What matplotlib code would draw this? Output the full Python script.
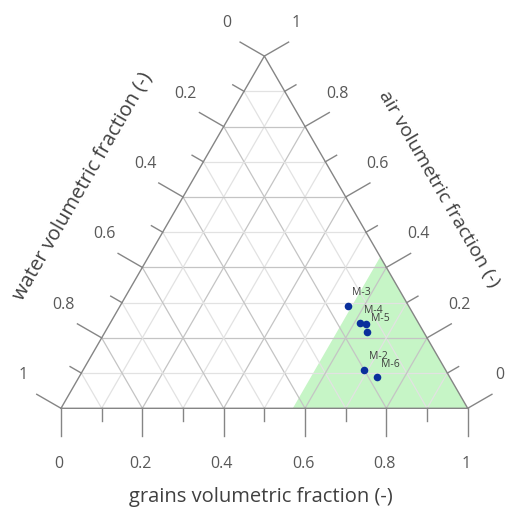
import matplotlib
matplotlib.use("Agg")
import matplotlib.pyplot as plt
import numpy as np

plt.rcParams['font.family'] = ['Open Sans', 'DejaVu Sans']

# samples: volumetric fractions
names = ["M-3", "M-4", "", "M-5", "M-2", "M-6"]
grains = [0.559, 0.614, 0.631, 0.643, 0.691, 0.732]
air = [0.291, 0.241, 0.239, 0.218, 0.109, 0.088]
water = [1 - g - a for g, a in zip(grains, air)]

green_min = 0.57  # shaded zone: grains fraction above this
levels = [0.0, 0.1, 0.2, 0.3, 0.4, 0.5, 0.6, 0.7, 0.8, 0.9, 1.0]
tick_labels = ["0", "", "0.2", "", "0.4", "", "0.6", "", "0.8", "", "1"]

S3 = np.sqrt(3) / 2
PX = 1 / 406.7  # one pixel in triangle units


def xy(g, a):
    g = np.asarray(g, dtype=float)
    a = np.asarray(a, dtype=float)
    return g + a / 2, a * S3


fig = plt.figure(figsize=(5.05, 5.13), dpi=100)
ax = fig.add_axes([0, 0, 1, 1])
ax.set_xlim(-61 * PX, 444 * PX)
ax.set_ylim(-104.7 * PX, 408.3 * PX)
ax.axis('off')

# green zone
gx, gy = xy([green_min, 1, green_min], [0, 0, 1 - green_min])
ax.fill(gx, gy, color='#c6f5c6', lw=0, zorder=1)

# grid
for i, v in enumerate(levels[1:-1], start=1):
    col = '#c4c4c4' if i % 2 == 0 else '#e2e2e2'
    # grains = v
    x, y = xy([v, v], [0, 1 - v])
    ax.plot(x, y, color=col, lw=0.9, zorder=2)
    # air = v
    x, y = xy([0, 1 - v], [v, v])
    ax.plot(x, y, color=col, lw=0.9, zorder=2)
    # water = v
    x, y = xy([1 - v, 0], [0, 1 - v])
    ax.plot(x, y, color=col, lw=0.9, zorder=2)

# outline
x, y = xy([0, 1, 0, 0], [0, 0, 1, 0])
ax.plot(x, y, color='#858585', lw=1.0, zorder=3)

# ticks
edge = '#858585'
txt = '#595959'
nl = np.array([-S3, 0.5])
nr = np.array([S3, 0.5])
for i, v in enumerate(levels):
    ln = 28 * PX if i % 2 == 0 else 13 * PX
    # bottom: grains
    bx, by = xy(v, 0)
    ax.plot([bx, bx], [by, by - ln], color=edge, lw=1.0)
    # left: water (0 at top)
    lx, ly = xy(0, 1 - v)
    ax.plot([lx, lx + nl[0] * ln], [ly, ly + nl[1] * ln], color=edge, lw=1.0)
    # right: air (0 at bottom right)
    rx, ry = xy(1 - v, v)
    ax.plot([rx, rx + nr[0] * ln], [ry, ry + nr[1] * ln], color=edge, lw=1.0)
    if tick_labels[i]:
        ax.text(bx - 2 * PX, by - 56 * PX, tick_labels[i], ha='center', va='center',
                fontsize=11.5, color=txt)
        ax.text(lx - 38 * PX, ly + 33 * PX, tick_labels[i], ha='center', va='center',
                fontsize=11.5, color=txt)
        ax.text(rx + 32 * PX, ry + 33 * PX, tick_labels[i], ha='center', va='center',
                fontsize=11.5, color=txt)

# axis titles
ax.text(200 * PX, -89 * PX, "grains volumetric fraction (-)", ha='center', va='center',
        fontsize=14.5, color='#404040')
ax.text(22 * PX, 222 * PX, "water volumetric fraction (-)", ha='center', va='center',
        rotation=60, fontsize=14.5, color='#404040')
ax.text(378 * PX, 219 * PX, "air volumetric fraction (-)", ha='center', va='center',
        rotation=-60, fontsize=14, color='#404040')

# samples
px, py = xy(grains, air)
ax.scatter(px, py, s=30, color='#0a2f9c', zorder=5, linewidths=0)
for n, x, y in zip(names, px, py):
    if n:
        ax.text(x + 4.5 * PX, y + 7.5 * PX, n, fontsize=7.5, color='#404040',
                ha='left', va='bottom', zorder=6)

fig.savefig("out.png", dpi=100)
